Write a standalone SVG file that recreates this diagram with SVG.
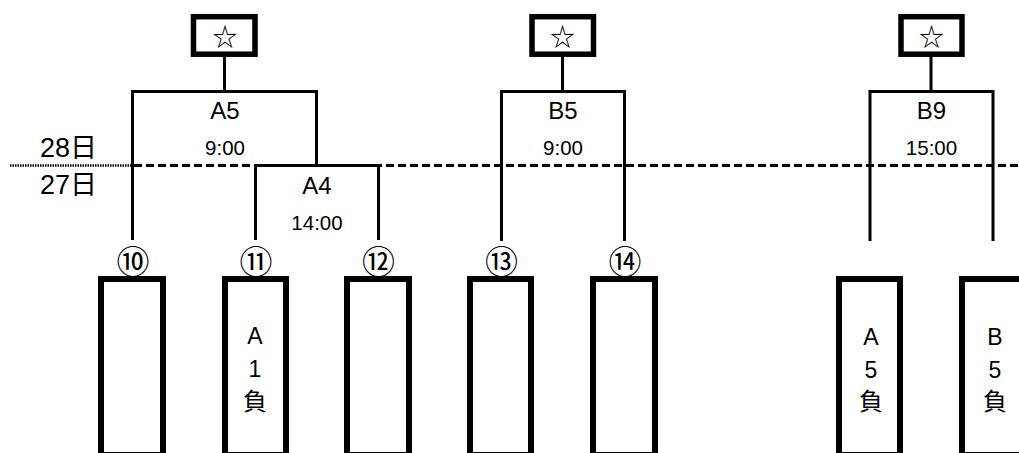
<svg xmlns="http://www.w3.org/2000/svg" width="1019" height="453" viewBox="0 0 1019 453">
<style>
.bg{fill:#fff}
.star{fill:#fff;stroke:#000;stroke-width:5.5}
.team{fill:#fff;stroke:#000;stroke-width:6}
.ln{fill:none;stroke:#000;stroke-width:3}
.dash{fill:none;stroke:#000;stroke-width:3;stroke-dasharray:8 4}
.dot{fill:none;stroke:#000;stroke-width:2.5;stroke-dasharray:1.5 1}
text{font-family:"Liberation Sans","Noto Sans CJK JP",sans-serif;fill:#000;text-anchor:middle}
.sym{font-family:"Noto Sans CJK JP",sans-serif;font-size:25px;dominant-baseline:central}
.num{font-family:"Noto Sans CJK JP",sans-serif;font-size:33px;dominant-baseline:central}
.lab{font-size:24px}
.time{font-size:20.5px}
.day{font-size:27px;text-anchor:start}
.in{font-size:23px}
.inj{font-family:"Noto Sans CJK JP",sans-serif;font-size:24px}
</style>
<rect class="bg" x="0" y="0" width="1019" height="453"/>
<g id="connectors">
<path class="dot" d="M10,165.5 H131"/>
<path class="dash" d="M134,165.5 H1019"/>
<path class="ln" d="M224.5,56 V91.5 M132.5,240 V91.5 H316.5 V165.5"/>
<path class="ln" d="M255.5,240 V165.5 H378.5 V240"/>
<path class="ln" d="M562.5,56 V91.5 M501.5,241 V91.5 H624.5 V241"/>
<path class="ln" d="M931,56 V91.5 M870,241 V91.5 H993 V241"/>
</g>
<g id="days">
<text class="day" x="40" y="157">28日</text>
<text class="day" x="40" y="194">27日</text>
</g>
<g id="win-A5"><rect class="star" x="193.5" y="16.7" width="61.5" height="37.5"/><text class="sym" x="225" y="35">☆</text></g>
<g id="win-B5"><rect class="star" x="532" y="16.7" width="61.5" height="37.5"/><text class="sym" x="562.5" y="35">☆</text></g>
<g id="win-B9"><rect class="star" x="901" y="16.7" width="61" height="37.5"/><text class="sym" x="931.5" y="35">☆</text></g>
<g id="match-A5"><text class="lab" x="225" y="119">A5</text><text class="time" x="225" y="155">9:00</text></g>
<g id="match-A4"><text class="lab" x="317" y="194">A4</text><text class="time" x="317" y="230">14:00</text></g>
<g id="match-B5"><text class="lab" x="563" y="118.5">B5</text><text class="time" x="563" y="155">9:00</text></g>
<g id="match-B9"><text class="lab" x="931.5" y="118.5">B9</text><text class="time" x="931.5" y="155">15:00</text></g>
<g id="seed-10"><text class="num" x="133" y="260">⑩</text><rect class="team" x="101" y="279" width="62" height="176"/></g>
<g id="seed-11"><text class="num" x="256" y="260">⑪</text><rect class="team" x="225" y="279" width="61" height="176"/><text class="in" x="255" y="344">A</text><text class="in" x="255" y="377">1</text><text class="inj" x="255" y="410">負</text></g>
<g id="seed-12"><text class="num" x="378.5" y="260">⑫</text><rect class="team" x="347" y="279" width="62" height="176"/></g>
<g id="seed-13"><text class="num" x="501.5" y="260">⑬</text><rect class="team" x="470" y="279" width="61" height="176"/></g>
<g id="seed-14"><text class="num" x="625" y="260">⑭</text><rect class="team" x="593" y="279" width="62" height="176"/></g>
<g id="loser-A5"><rect class="team" x="839" y="279" width="61" height="176"/><text class="in" x="871" y="345">A</text><text class="in" x="871" y="378">5</text><text class="inj" x="871" y="410">負</text></g>
<g id="loser-B5"><rect class="team" x="962" y="279" width="62" height="176"/><text class="in" x="995" y="345">B</text><text class="in" x="995" y="378">5</text><text class="inj" x="995" y="410">負</text></g>
</svg>
